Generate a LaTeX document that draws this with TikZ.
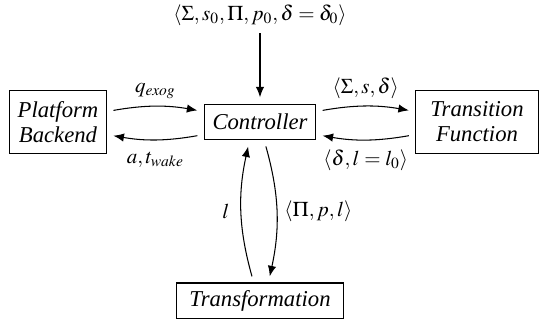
\documentclass[tikz,border=0pt]{standalone}
\usepackage{mathptmx}
\usepackage[no-math]{fontspec}
\setmainfont[Scale=1.08]{Liberation Serif}
\usetikzlibrary{arrows.meta,calc}

\tikzset{
  block/.style={draw,line width=0.5pt,align=center,font=\itshape,inner xsep=4pt,minimum height=17pt},
  twoline/.style={block,minimum height=30pt},
  flow/.style={-{Latex[length=5pt,width=4pt]},line width=0.5pt,shorten <=3pt,shorten >=3pt}
}

\begin{document}
\begin{tikzpicture}[x=0.476pt,y=-0.476pt]
\useasboundingbox (0,0) rectangle (551,321);

\node[block] (ctrl) at (260,122) {Controller};
\node[twoline] (pb) at (58,122) {Platform\\Backend};
\node[twoline,inner xsep=7pt] (tf) at (477,122) {Transition\\Function};
\node[block,inner xsep=6pt] (tr) at (260,301) {Transformation};
\node (init) at (260,15) {$\langle\Sigma,s_0,\Pi,p_0,\delta=\delta_0\rangle$};

\draw[flow,shorten <=0pt] (init) -- (ctrl);

\draw[flow] ([yshift=5pt]pb.east) to[bend left=10] node[above] {$q_{exog}$} ([yshift=5pt]ctrl.west);
\draw[flow] ([yshift=-6pt]ctrl.west) to[bend left=10] node[below=2pt] {$a,t_{wake}$} ([yshift=-6pt]pb.east);

\draw[flow] ([yshift=5pt]ctrl.east) to[bend left=10] node[above] {$\langle\Sigma,s,\delta\rangle$} ([yshift=5pt]tf.west);
\draw[flow] ([yshift=-6pt]tf.west) to[bend left=10] node[below=1pt] {$\langle\delta,l=l_0\rangle$} ([yshift=-6pt]ctrl.east);

\draw[flow] ([xshift=-3pt]tr.north) to[bend left=14] node[left=2pt] {$l$} ([xshift=-5pt]ctrl.south);
\draw[flow] ([xshift=2pt]ctrl.south) to[bend left=14] node[right=0pt] {$\langle\Pi,p,l\rangle$} ([xshift=4pt]tr.north);

\end{tikzpicture}
\end{document}
